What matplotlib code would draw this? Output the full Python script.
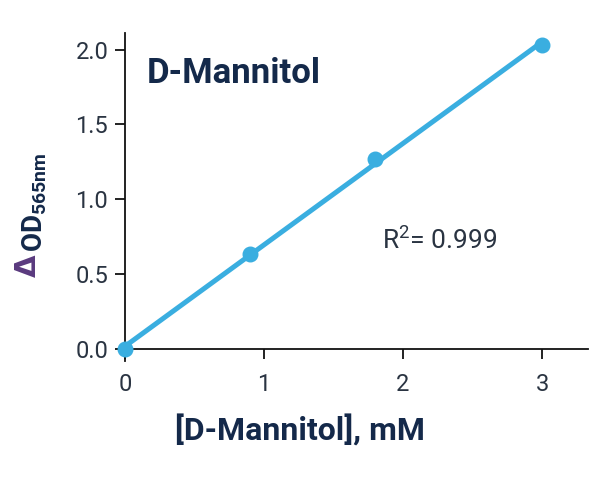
import matplotlib
matplotlib.use("Agg")
import matplotlib.pyplot as plt
import numpy as np

conc = [0.0, 0.9, 1.8, 3.0]
od = [0.0, 0.635, 1.27, 2.03]
xticks = [0, 1, 2, 3]
yticks = [0.0, 0.5, 1.0, 1.5, 2.0]
title = "D-Mannitol"
xlabel = "[D-Mannitol], mM"
r2_text = "R$^2$= 0.999"

navy = "#14294a"
blue = "#3aaee0"
purple = "#5a3a7e"

plt.rcParams['font.family'] = ['Roboto', 'DejaVu Sans']
plt.rcParams['mathtext.fontset'] = 'custom'
plt.rcParams['mathtext.rm'] = 'Roboto'
plt.rcParams['mathtext.bf'] = 'Roboto:bold'

fig = plt.figure(figsize=(6, 4.8), dpi=100)
ax = fig.add_axes([118/600, 0.248, 470/600, 0.683])

slope, intercept = np.polyfit(conc, od, 1)
xs = np.array([0.0, 3.0])
ax.plot(xs, slope * xs + intercept, color=blue, lw=3.6, solid_capstyle='round', zorder=2)
ax.scatter(conc, od, s=110, color=blue, zorder=3, clip_on=False)

ax.set_xlim(-0.05, 3.33)
ax.set_ylim(-0.08, 2.11)
ax.spines['left'].set_position(('data', 0))
ax.spines['bottom'].set_position(('data', 0))
ax.spines['top'].set_visible(False)
ax.spines['right'].set_visible(False)
for s in ['left', 'bottom']:
    ax.spines[s].set_linewidth(1.3)
    ax.spines[s].set_color('#111111')
ax.set_xticks(xticks)
ax.set_xticklabels([str(t) for t in xticks])
ax.set_yticks(yticks)
ax.set_yticklabels([f"{t:.1f}" for t in yticks])
ax.tick_params(axis='both', labelsize=17, colors='#111111', labelcolor='#2a3442',
               width=1.3, length=7, direction='out')
ax.tick_params(axis='x', pad=10)
ax.tick_params(axis='y', pad=5)

ax.text(0.16, 1.84, title, fontsize=25, fontweight='bold', color=navy, ha='left', va='center')
ax.text(1.85, 0.73, r2_text, fontsize=19, color='#2a3442', ha='left', va='center')

fig.text(175/600, 0.104, xlabel, fontsize=23, fontweight='bold', color=navy,
         ha='left', va='center')
fig.text(42/600, 1 - 252/480, r"$\mathbf{OD}_{\mathbf{565nm}}$", fontsize=20, color=navy,
         rotation=90, rotation_mode='anchor', ha='left', va='baseline')
fig.text(36/600, 1 - 277/480, "Δ", fontsize=21, fontweight='bold', color=purple,
         family=['DejaVu Sans'], rotation=90, rotation_mode='anchor', ha='left', va='baseline')

fig.savefig("out.png", dpi=100, facecolor='white')
